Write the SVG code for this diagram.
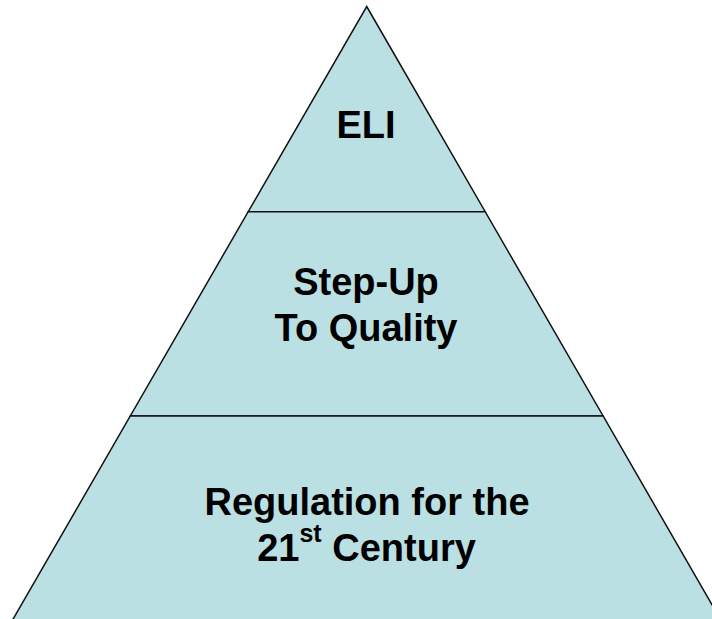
<svg xmlns="http://www.w3.org/2000/svg" width="712" height="619" viewBox="0 0 712 619">
  <style>
    .tier { fill: #BBE0E3; stroke: #111; stroke-width: 1.5; stroke-linejoin: miter; }
    .lbl { font-family: "Liberation Sans", Arial, sans-serif; font-weight: bold; font-size: 38px; fill: #000; text-anchor: middle; }
    .sup { font-size: 25px; }
  </style>
  <rect width="712" height="619" fill="#FFFFFF"/>
  <g id="tier-eli">
    <polygon class="tier" points="366.7,6.5 485.2,211.7 248.2,211.7"/>
    <text class="lbl" x="366" y="138">ELI</text>
  </g>
  <g id="tier-stepup">
    <polygon class="tier" points="248.2,211.7 485.2,211.7 603.1,416 130.3,416"/>
    <text class="lbl" x="366" y="295">Step-Up</text>
    <text class="lbl" x="366" y="341">To Quality</text>
  </g>
  <g id="tier-regulation">
    <polygon class="tier" points="130.3,416 603.1,416 722,622 11.4,622"/>
    <text class="lbl" x="367" y="515">Regulation for the</text>
    <text class="lbl" x="366.5" y="561">21<tspan class="sup" dy="-19">st</tspan><tspan dy="19"> Century</tspan></text>
  </g>
  <g id="connectors"></g>
</svg>
